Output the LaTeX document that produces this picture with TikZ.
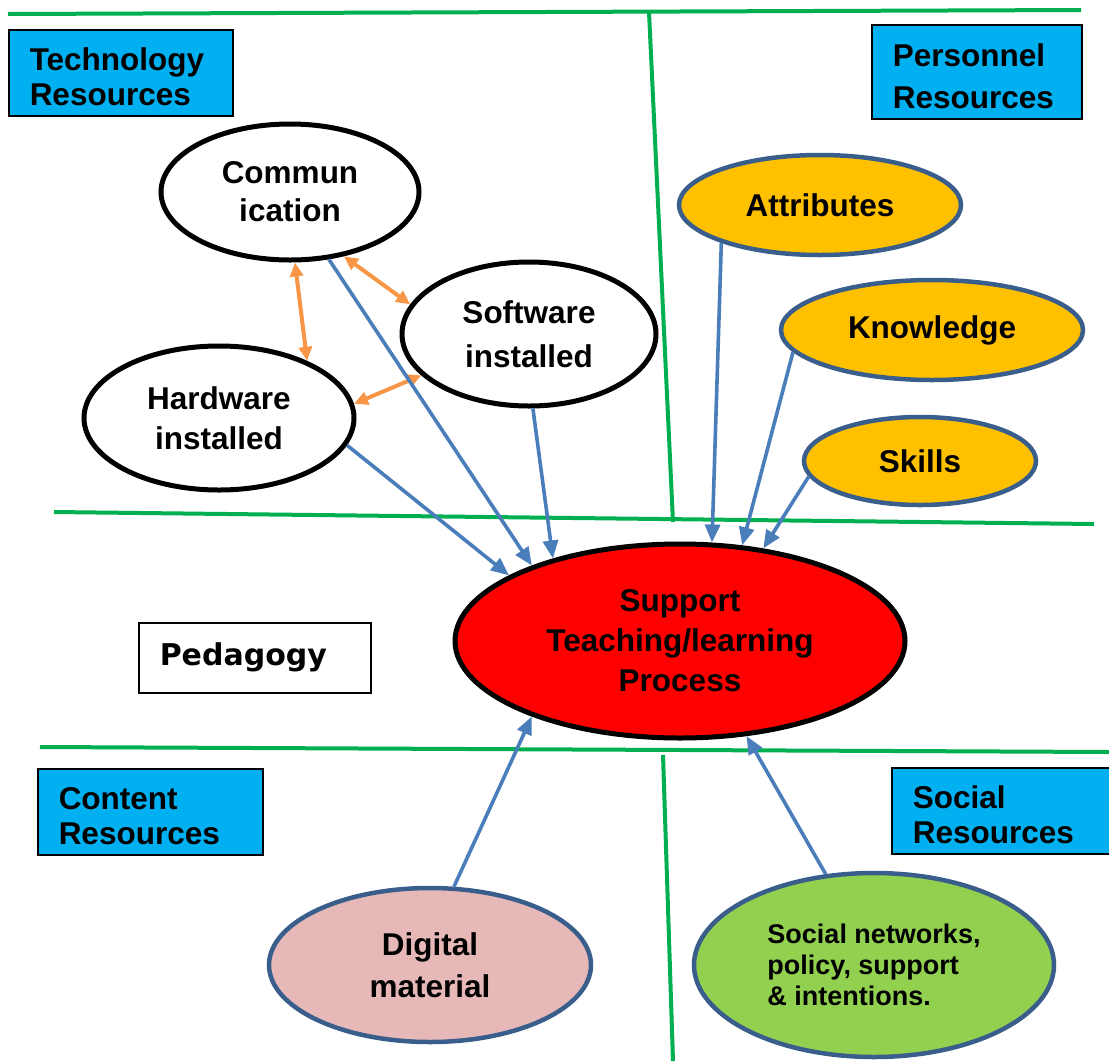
\documentclass[tikz,border=0pt]{standalone}
\usepackage{fontspec}
\setmainfont{Liberation Sans}
\newfontfamily\heavyfont{DejaVu Sans}
\usetikzlibrary{shapes.geometric,arrows.meta}

\definecolor{divgreen}{HTML}{00B050}
\definecolor{boxblue}{HTML}{00B0F0}
\definecolor{flowblue}{HTML}{4A7EBB}
\definecolor{linkorange}{HTML}{F79646}
\definecolor{rimblue}{HTML}{3A5E8C}
\definecolor{gold}{HTML}{FFC000}
\definecolor{pinkfill}{HTML}{E6B9B8}
\definecolor{leaf}{HTML}{92D050}

\newcommand{\toppad}{\rule{0pt}{31pt}}

\begin{document}
\begin{tikzpicture}[x=1pt,y=-1pt,
  divider/.style={draw=divgreen,line width=4pt},
  resbox/.style={draw=black,line width=1.5pt,fill=boxblue,anchor=north west,
    align=left,inner xsep=21pt,inner ysep=0pt,
    font=\bfseries\fontsize{31.5}{35}\selectfont},
  plainell/.style={ellipse,draw=black,line width=5pt,fill=white,inner sep=0pt,
    align=center,font=\bfseries\fontsize{31.5}{40}\selectfont},
  colell/.style={ellipse,draw=rimblue,line width=4.5pt,inner sep=0pt,
    align=center,font=\bfseries\fontsize{31.5}{42}\selectfont},
  flow/.style={draw=flowblue,line width=3.6pt,-{Triangle[length=18pt,width=15pt]}},
  link/.style={draw=linkorange,line width=4pt,
    {Triangle[length=14pt,width=13pt]}-{Triangle[length=14pt,width=13pt]}}
]
\useasboundingbox (0,0) rectangle (1109,1061);

% quadrant dividers
\draw[divider] (8,14) -- (1081,10);
\draw[divider] (649,12) -- (673,522);
\draw[divider] (54,512) -- (1094,524);
\draw[divider] (40,747) -- (1109,752);
\draw[divider] (663,755) -- (673,1061);

% resource headings
\node[resbox,text width=182pt,minimum height=86pt] (tech) at (8,29) {\toppad Technology\\Resources};
\node[resbox,text width=168pt,minimum height=94pt,
  font=\bfseries\fontsize{31.5}{42}\selectfont] (pers) at (871,24) {\toppad Personnel\\Resources};
\node[resbox,text width=183pt,minimum height=86pt] (cont) at (37,768) {\toppad Content\\Resources};
\node[resbox,text width=182pt,minimum height=86pt] (soc) at (891,767) {\toppad Social\\Resources};
\node[resbox,fill=white,text width=190pt,minimum height=70pt,
  font=\heavyfont\bfseries\fontsize{30}{35}\selectfont] (ped) at (138,622) {Pedagogy};

% technology resources
\node[plainell,minimum width=258pt,minimum height=136pt,
  font=\bfseries\fontsize{31.5}{38}\selectfont] (comm) at (290,192) {Commun\\ication};
\node[plainell,minimum width=254pt,minimum height=144pt,
  font=\bfseries\fontsize{31.5}{44}\selectfont] (soft) at (529,334) {Software\\installed};
\node[plainell,minimum width=270pt,minimum height=144pt] (hw) at (219,418) {Hardware\\installed};

% central process
\node[plainell,fill=red,minimum width=450pt,minimum height=194pt,
  font=\bfseries\fontsize{31.5}{40}\selectfont] (support) at (680,641)
  {Support\\Teaching/learning\\Process};

% personnel resources
\node[colell,fill=gold,minimum width=282pt,minimum height=100pt] (attr) at (820,205) {Attributes};
\node[colell,fill=gold,minimum width=302pt,minimum height=100pt] (know) at (932,330) {Knowledge};
\node[colell,fill=gold,minimum width=232pt,minimum height=88pt] (skills) at (920,461) {Skills};

% content and social resources
\node[colell,fill=pinkfill,minimum width=322pt,minimum height=154pt] (digi) at (430,965) {Digital\\material};
\node[colell,fill=leaf,minimum width=360pt,minimum height=184pt,align=left,
  font=\bfseries\fontsize{27}{31}\selectfont] (socnet) at (874,965)
  {Social networks,\\policy, support\\\& intentions.};

% links among technology resources
\draw[link] (comm.-86) -- (hw.33);
\draw[link] (comm.-50) -- (soft.166);
\draw[link] (hw.6) -- (soft.201);

% contributions to the process
\draw[flow] (comm.-60) -- (support.153);
\draw[flow] (soft.-87) -- (support.147);
\draw[flow] (hw.-12) -- (support.159);
\draw[flow] (attr.-159) -- (support.72);
\draw[flow] (know.-171) -- (support.57);
\draw[flow] (skills.-172) -- (support.48);
\draw[flow] (digi.73) -- (support.-153);
\draw[flow] (socnet.118) -- (support.-55);
\end{tikzpicture}
\end{document}
